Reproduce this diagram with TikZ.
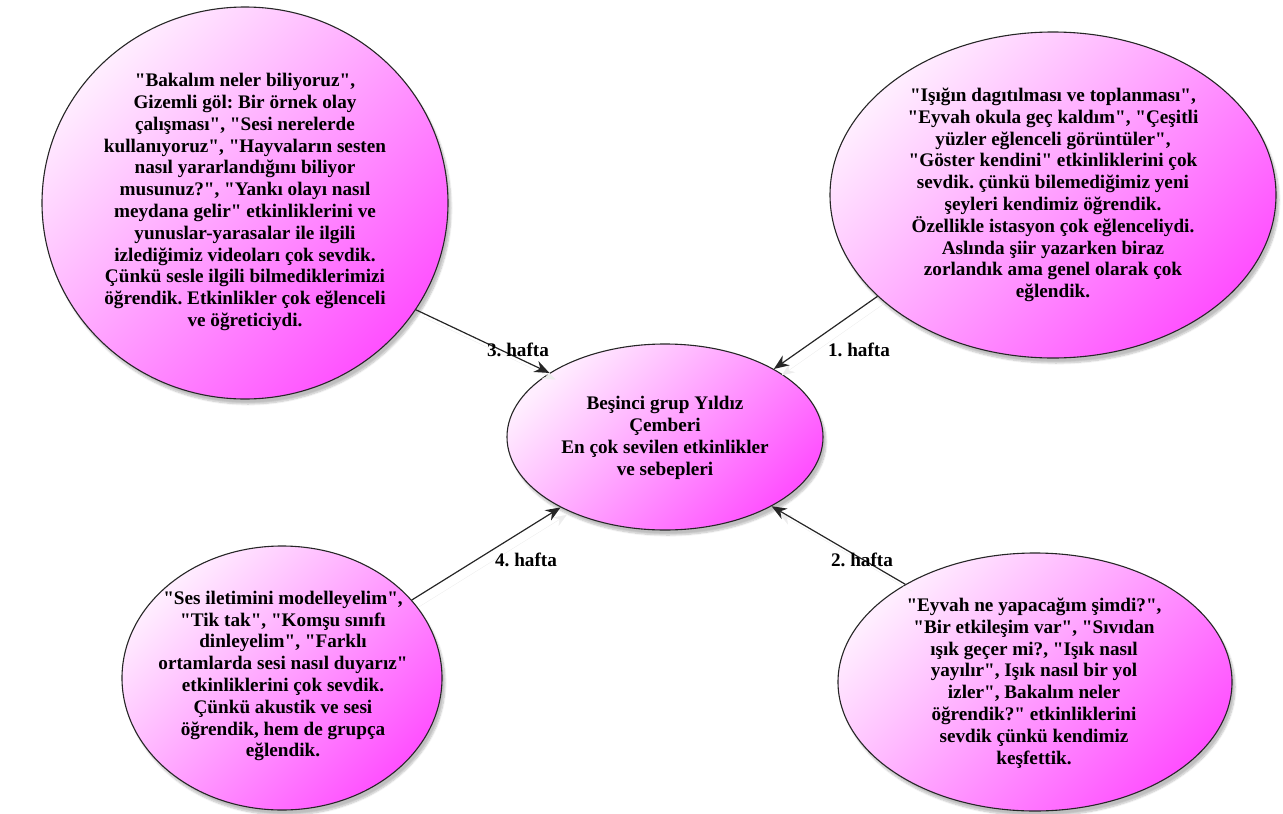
\documentclass[tikz,border=0pt]{standalone}
\usepackage{fontspec}
\setmainfont{Liberation Serif}[Ligatures=TeXOff]
\frenchspacing
\usetikzlibrary{shapes.geometric,arrows.meta,shadows.blur}

\definecolor{pinklight}{RGB}{255,238,255}
\definecolor{pinkmid}{RGB}{255,182,255}
\definecolor{pinkdeep}{RGB}{255,80,255}

\begin{document}
\begin{tikzpicture}[x=1pt,y=-1pt,
  bubble/.style={ellipse, draw=black!85, line width=1.1pt,
    top color=pinklight, middle color=pinkmid, bottom color=pinkdeep,
    shading angle=45, inner sep=0pt,
    blur shadow={shadow xshift=3pt, shadow yshift=-5pt, shadow opacity=25, shadow blur steps=8}},
  bubbletext/.style={align=center, inner sep=0pt, text=black,
    font=\bfseries\fontsize{19.2}{21.8}\selectfont},
  weeklabel/.style={inner sep=0pt, text=black,
    font=\bfseries\fontsize{19.2}{21.8}\selectfont},
  conn/.style={draw=black!85, line width=1.2pt, -{Stealth[length=15pt,width=12pt]},
    preaction={draw=black!7, transform canvas={shift={(7pt,-7pt)}}}}
]
\useasboundingbox (0,0) rectangle (1283,814);

% ellipses
\node[bubble, minimum width=406pt, minimum height=392pt] (tl) at (245,203) {};
\node[bubble, minimum width=446pt, minimum height=326pt] (tr) at (1053,195) {};
\node[bubble, minimum width=320pt, minimum height=264pt] (bl) at (282,678) {};
\node[bubble, minimum width=394pt, minimum height=258pt] (br) at (1035,682) {};
\node[bubble, minimum width=316pt, minimum height=186pt] (c) at (665,437) {};

% texts inside the ellipses
\node[bubbletext] (tltext) at (245,202) {"Bakalım neler biliyoruz",\\
Gizemli göl: Bir örnek olay\\
çalışması", "Sesi nerelerde\\
kullanıyoruz", "Hayvaların sesten\\
nasıl yararlandığını biliyor\\
musunuz?", "Yankı olayı nasıl\\
meydana gelir" etkinliklerini ve\\
yunuslar-yarasalar ile ilgili\\
izlediğimiz videoları çok sevdik.\\
Çünkü sesle ilgili bilmediklerimizi\\
öğrendik. Etkinlikler çok eğlenceli\\
ve öğreticiydi.};

\node[bubbletext] (trtext) at (1053,195) {"Işığın dagıtılması ve toplanması",\\
"Eyvah okula geç kaldım", "Çeşitli\\
yüzler eğlenceli görüntüler",\\
"Göster kendini" etkinliklerini çok\\
sevdik. çünkü bilemediğimiz yeni\\
şeyleri kendimiz öğrendik.\\
Özellikle istasyon çok eğlenceliydi.\\
Aslında şiir yazarken biraz\\
zorlandık ama genel olarak çok\\
eğlendik.};

\node[bubbletext] (ctext) at (665,438) {Beşinci grup Yıldız\\
Çemberi\\
En çok sevilen etkinlikler\\
ve sebepleri};

\node[bubbletext] (bltext) at (283,676) {"Ses iletimini modelleyelim",\\
"Tik tak", "Komşu sınıfı\\
dinleyelim", "Farklı\\
ortamlarda sesi nasıl duyarız"\\
etkinliklerini çok sevdik.\\
Çünkü akustik ve sesi\\
öğrendik, hem de grupça\\
eğlendik.};

\node[bubbletext] (brtext) at (1034,683) {"Eyvah ne yapacağım şimdi?",\\
"Bir etkileşim var", "Sıvıdan\\
ışık geçer mi?, "Işık nasıl\\
yayılır", Işık nasıl bir yol\\
izler", Bakalım neler\\
öğrendik?" etkinliklerini\\
sevdik çünkü kendimiz\\
keşfettik.};

% connectors
\draw[conn] (tr.210.4) -- (c.32);
\draw[conn] (br.143.8) -- (c.327.6);
\draw[conn] (tl.328.6) -- (c.151.2);
\draw[conn] (bl.31.8) -- (c.214.2);

% week labels
\node[weeklabel] (w1) at (859,350) {1. hafta};
\node[weeklabel] (w2) at (862,560) {2. hafta};
\node[weeklabel] (w3) at (518,350) {3. hafta};
\node[weeklabel] (w4) at (526,560) {4. hafta};
\end{tikzpicture}
\end{document}
